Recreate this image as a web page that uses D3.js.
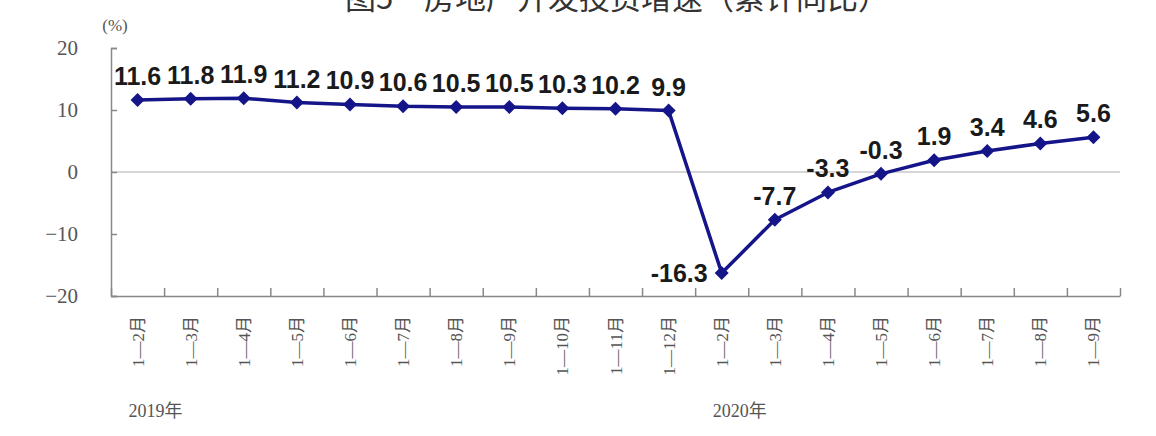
<!DOCTYPE html>
<html lang="zh">
<head>
    <meta charset="UTF-8">
    <title>房地产开发投资增速</title>
    <script src="https://cdn.jsdelivr.net/npm/d3@7/dist/d3.min.js"></script>
    <style>
        body{
            margin: 0;
            background: #fff;
        }
        svg{
            display: block;
        }
        .title{
            font-family: "Noto Sans CJK SC", sans-serif;
            font-size: 31px;
            fill: #333;
        }
        .val{
            font-family: "Liberation Sans", Arial, sans-serif;
            font-weight: bold;
            font-size: 25px;
            fill: #1a1a1a;
        }
        .tick text, .cat, .year, .unit{
            font-family: "Liberation Serif", "Noto Sans CJK SC", serif;
            fill: #555;
        }
    </style>
</head>
<body>
<svg id="main" width="1156" height="436"></svg>
<script>

    // data: cumulative yoy growth, %
    const months2019 = ["1—2月", "1—3月", "1—4月", "1—5月", "1—6月", "1—7月", "1—8月", "1—9月", "1—10月", "1—11月", "1—12月"];
    const values2019 = [11.6, 11.8, 11.9, 11.2, 10.9, 10.6, 10.5, 10.5, 10.3, 10.2, 9.9];
    const months2020 = ["1—2月", "1—3月", "1—4月", "1—5月", "1—6月", "1—7月", "1—8月", "1—9月"];
    const values2020 = [-16.3, -7.7, -3.3, -0.3, 1.9, 3.4, 4.6, 5.6];
    const years = ["2019年", "2020年"];
    const yTicks = [-20, -10, 0, 10, 20];

    const data = months2019.map((m, i) => ({i: i, label: m, v: values2019[i]}))
        .concat(months2020.map((m, i) => ({i: months2019.length + i, label: m, v: values2020[i]})));

    const svg = d3.select('svg#main');

    const plot = {left: 111, right: 1120, top: 48, bottom: 296};

    // scales
    const x = d3.scaleBand()
        .domain(data.map(d => d.i))
        .range([plot.left, plot.right]);
    const cx = d => x(d.i) + x.bandwidth() / 2;

    const y = d3.scaleLinear()
        .domain([-20, 20])
        .range([plot.bottom, plot.top]);

    // title (top is cropped in the reference too)
    svg.append('text')
        .attr('class', 'title')
        .attr('x', 617)
        .attr('y', 9)
        .attr('text-anchor', 'middle')
        .text('图5\u3000房地产开发投资增速（累计同比）');

    svg.append('text')
        .attr('class', 'unit')
        .attr('x', 115)
        .attr('y', 31)
        .attr('text-anchor', 'middle')
        .style('font-size', '17px')
        .text('(%)');

    // zero line
    svg.append('line')
        .attr('x1', plot.left).attr('x2', plot.right)
        .attr('y1', y(0)).attr('y2', y(0))
        .attr('stroke', '#c8c8c8')
        .attr('stroke-width', 1.5);

    // y axis, ticks pointing inwards
    const yAxis = svg.append('g')
        .attr('transform', `translate(${plot.left},0)`)
        .call(d3.axisLeft(y).tickValues(yTicks).tickSize(-6).tickPadding(33));
    yAxis.selectAll('.tick text').style('font-size', '21px');
    yAxis.selectAll('path, line').attr('stroke', '#888').attr('stroke-width', 1.5);

    // x axis, ticks at category edges
    const edge = d3.scaleLinear().domain([0, data.length]).range([plot.left, plot.right]);
    const xAxis = svg.append('g')
        .attr('transform', `translate(0,${plot.bottom})`)
        .call(d3.axisBottom(edge).tickValues(d3.range(data.length + 1)).tickSize(-8).tickFormat('').tickSizeOuter(0));
    xAxis.selectAll('path, line').attr('stroke', '#888').attr('stroke-width', 1.5);

    // rotated category labels
    svg.selectAll('.cat')
        .data(data)
        .enter()
        .append('text')
        .attr('class', 'cat')
        .attr('transform', d => `translate(${cx(d) + 6},${plot.bottom + 20}) rotate(-90)`)
        .attr('text-anchor', 'end')
        .style('font-size', '17px')
        .text(d => d.label);

    // year labels under first month of each year
    svg.selectAll('.year')
        .data(years)
        .enter()
        .append('text')
        .attr('class', 'year')
        .attr('x', (d, i) => cx(data[i === 0 ? 0 : months2019.length]) - 9)
        .attr('y', 417)
        .style('font-size', '18px')
        .text(d => d);

    // line
    const line = d3.line()
        .x(cx)
        .y(d => y(d.v));

    svg.append('path')
        .datum(data)
        .attr('fill', 'none')
        .attr('stroke', '#15158a')
        .attr('stroke-width', 3.5)
        .attr('stroke-linejoin', 'round')
        .attr('d', line);

    // diamond markers
    svg.selectAll('.marker')
        .data(data)
        .enter()
        .append('path')
        .attr('class', 'marker')
        .attr('transform', d => `translate(${cx(d)},${y(d.v)})`)
        .attr('d', 'M0,-7L7,0L0,7L-7,0Z')
        .attr('fill', '#15158a');

    // value labels, the lowest one sits to the left of its point
    const lowest = d3.min(values2020);
    svg.selectAll('.val')
        .data(data)
        .enter()
        .append('text')
        .attr('class', 'val')
        .attr('x', d => d.v === lowest ? cx(d) - 14 : cx(d))
        .attr('y', d => d.v === lowest ? y(d.v) + 9 : y(d.v) - 15)
        .attr('text-anchor', d => d.v === lowest ? 'end' : 'middle')
        .text(d => d.v.toFixed(1));

</script>
</body>
</html>
